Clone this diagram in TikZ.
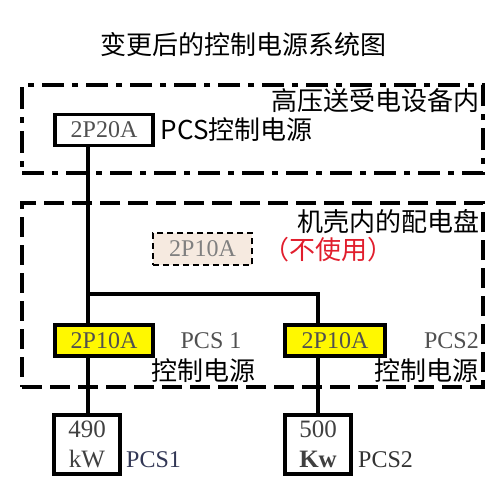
\documentclass[tikz,border=0pt]{standalone}
\usepackage{fontspec}
\setmainfont{Liberation Serif}
\newfontfamily\cjk{Noto Sans CJK SC}
\usetikzlibrary{positioning, calc}

\definecolor{brkyellow}{RGB}{255,248,0}
\definecolor{sparefill}{RGB}{246,234,224}
\definecolor{notred}{RGB}{225,30,45}
\definecolor{labelgray}{RGB}{80,80,80}
\definecolor{pcsslate}{RGB}{50,55,85}

\begin{document}
\begin{tikzpicture}[
    x=1pt, y=-1pt,
    zone/.style={draw, line width=3.2pt, minimum width=461pt, inner sep=0pt},
    breaker/.style={draw, line width=3.2pt, minimum width=98pt, minimum height=31pt, inner sep=0pt, font=\fontsize{24}{26}\selectfont, text=labelgray},
    spare/.style={draw, line width=2pt, dash pattern=on 6pt off 4pt, minimum width=99pt, minimum height=32pt, inner sep=0pt, fill=sparefill, font=\fontsize{24}{26}\selectfont, text=gray},
    load/.style={draw, line width=3.2pt, minimum width=66pt, minimum height=59pt, inner sep=0pt, align=center, font=\fontsize{25}{30}\selectfont, text=black!75},
    cjklabel/.style={font=\cjk\fontsize{26}{28}\selectfont, inner sep=0pt},
    serlabel/.style={font=\fontsize{24}{26}\selectfont, text=labelgray, inner sep=0pt},
    wire/.style={line width=3.4pt}
]
\useasboundingbox (0,0) rectangle (497,493);

% -------------------------------------------------------------------------
% Title and the two cabinet zones
% -------------------------------------------------------------------------
\node[cjklabel] (Title) at (243,45) {变更后的控制电源系统图};

\node[zone, minimum height=88pt, dash pattern=on 22pt off 8pt on 6pt off 8pt] (HV) at (252.5,129) {};
\node[cjklabel, anchor=east] (HVtext) at (480,101) {高压送受电设备内};

\node[zone, minimum height=184pt, dash pattern=on 20pt off 8pt] (Panel) at (252.5,295) {};
\node[cjklabel, anchor=east] (Paneltext) at (480,222) {机壳内的配电盘};

% -------------------------------------------------------------------------
% Breakers
% -------------------------------------------------------------------------
\node[breaker] (Main) at (104,130) {2P20A};
\node[cjklabel, right=6pt of Main] (Maintext) {PCS控制电源};

\node[spare] (Spare) at (202.5,249) {2P10A};
\node[cjklabel, text=notred, anchor=west] (Sparetext) at (263,250) {（不使用）};

\node[breaker, fill=brkyellow] (B1) at (104,340.5) {2P10A};
\node[breaker, fill=brkyellow, minimum width=100pt] (B2) at (335,340.5) {2P10A};

\node[serlabel] (B1name) at (211,341) {PCS 1};
\node[cjklabel, anchor=west] (B1text) at (151,371) {控制电源};
\node[serlabel, anchor=east] (B2name) at (479,341) {PCS2};
\node[cjklabel, anchor=east] (B2text) at (479,371) {控制电源};

% -------------------------------------------------------------------------
% PCS loads
% -------------------------------------------------------------------------
\node[load] (PCS1) at (87,444.5) {490\\kW};
\node[load] (PCS2) at (318,444.5) {500\\\textbf{Kw}};
\node[serlabel, anchor=west, text=pcsslate] (PCS1name) at (126,460) {PCS1};
\node[serlabel, anchor=west, text=black!80] (PCS2name) at (358,460) {PCS2};

% -------------------------------------------------------------------------
% Wiring
% -------------------------------------------------------------------------
\coordinate (J) at (88,294);
\draw[wire] (Main.south -| J) -- (J) -- (B1.north -| J);
\draw[wire] (J) -| (PCS2 |- B2.north);
\draw[wire] (B1.south -| J) -- (PCS1.north -| J);
\draw[wire] (B2.south -| PCS2) -- (PCS2.north);

\end{tikzpicture}
\end{document}
